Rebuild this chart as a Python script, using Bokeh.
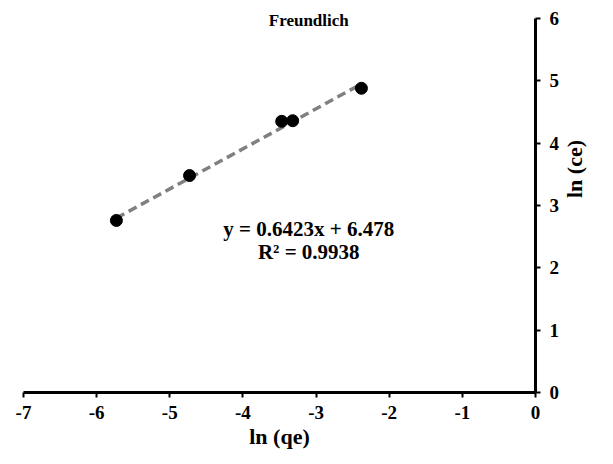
import math
from bokeh.plotting import figure
from bokeh.models import Range1d, Label, FixedTicker, ColumnDataSource
from bokeh.embed import file_html
from bokeh.resources import INLINE

# Data
ln_qe = [-5.73, -4.73, -3.47, -3.32, -2.38]
ln_ce = [2.76, 3.48, 4.35, 4.36, 4.88]
slope = 0.6423
intercept = 6.478
r2 = 0.9938
x_ticks = [-7, -6, -5, -4, -3, -2, -1, 0]
x_tick_labels = ["-7", "-6", "-5", "-4", "-3", "-2", "-1", "0"]
y_ticks = [0, 1, 2, 3, 4, 5, 6]
title_text = "Freundlich"
x_title = "ln (qe)"
y_title = "ln (ce)"

FONT = "'Liberation Serif', 'Times New Roman', serif"

p = figure(frame_width=512, frame_height=389, output_backend="svg", toolbar_location=None,
           x_range=Range1d(-7, 0), y_range=Range1d(0, 6.24),
           y_axis_location="right",
           min_border_left=23, min_border_top=3,
           min_border_right=62, min_border_bottom=56)
p.outline_line_color = None
p.grid.visible = False
p.background_fill_color = "white"
p.border_fill_color = "white"

for ax in (p.xaxis[0], p.yaxis[0]):
    ax.axis_line_width = 3
    ax.axis_line_color = "black"
    ax.major_tick_line_width = 2
    ax.major_tick_out = 5
    ax.major_tick_in = 0
    ax.minor_tick_line_color = None
    ax.major_label_text_font = FONT
    ax.major_label_text_font_style = "bold"
    ax.major_label_text_font_size = "19px"
    ax.major_label_text_color = "black"
    ax.axis_label_text_font = FONT
    ax.axis_label_text_font_style = "bold"
    ax.axis_label_text_font_size = "22px"
    ax.axis_label_text_color = "black"

p.xaxis[0].ticker = FixedTicker(ticks=x_ticks)
p.xaxis[0].major_label_overrides = {t: s for t, s in zip(x_ticks, x_tick_labels)}
p.yaxis[0].ticker = FixedTicker(ticks=y_ticks)
p.yaxis[0].bounds = (0, 6)
p.xaxis[0].axis_label = x_title
p.yaxis[0].axis_label = y_title
p.yaxis[0].axis_label_orientation = math.pi / 2
p.xaxis[0].major_label_standoff = 8
p.yaxis[0].major_label_standoff = 9
p.xaxis[0].axis_label_standoff = 2
p.yaxis[0].axis_label_standoff = 12

# Trend line from the fitted equation over the data span
x0, x1 = min(ln_qe), max(ln_qe)
p.line([x0, x1], [slope * x0 + intercept, slope * x1 + intercept],
       line_color="#808080", line_width=3.5, line_dash="9 5")

src = ColumnDataSource(dict(x=ln_qe, y=ln_ce))
p.scatter("x", "y", source=src, size=12, fill_color="black", line_color="black")

p.add_layout(Label(x=-3.1, y=5.97, text=title_text, text_align="center",
                   text_baseline="middle", text_font=FONT, text_font_style="bold",
                   text_font_size="17px", text_color="black"))
p.add_layout(Label(x=-3.1, y=2.63, text=f"y = {slope}x + {intercept}",
                   text_align="center", text_baseline="middle", text_font=FONT,
                   text_font_style="bold", text_font_size="21px", text_color="black"))
p.add_layout(Label(x=-3.1, y=2.25, text=f"R\u00b2 = {r2}",
                   text_align="center", text_baseline="middle", text_font=FONT,
                   text_font_style="bold", text_font_size="21px", text_color="black"))

open("out.html", "w").write(file_html(p, INLINE))
